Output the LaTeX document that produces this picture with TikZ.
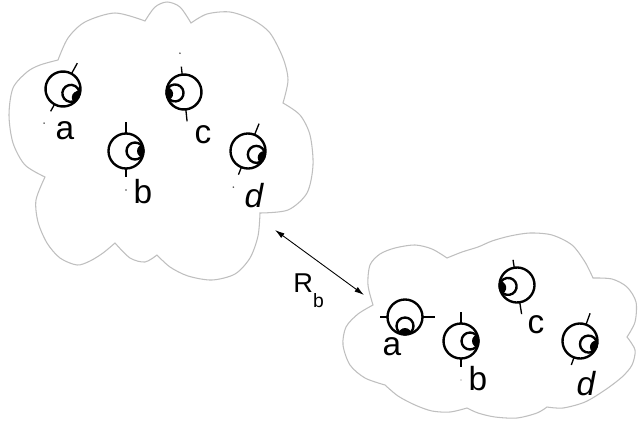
\documentclass[tikz,border=0pt]{standalone}
\usepackage{fontspec}
\setmainfont{Liberation Sans}
\usetikzlibrary{arrows.meta}

\tikzset{
  cloud/.style={draw=black!25, fill=white, line width=0.6pt},
  eyeline/.style={line width=1.35pt},
  tickline/.style={line width=0.75pt},
  who/.style={inner sep=0pt, anchor=base, font=\fontsize{19}{21}\selectfont},
}

% eye at (#2,#3), looking along angle #4; #1 = colour of the small dot
\newcommand{\eye}[4][]{%
  \begin{scope}[shift={(#2,#3)}, x=0.02cm, y=0.02cm, rotate=#4]
    \draw[eyeline] (0,0) circle (17.5);
    \begin{scope}
      \clip (9,0) circle (8.5);
      \fill (17.5,0) circle (6.5);
    \end{scope}
    \draw[eyeline] (9,0) circle (8.5);
    \draw[tickline] (0,17.5) -- (0,29.5);
    \draw[tickline] (0,-17.5) -- (0,-25.5);
    \if\relax\detokenize{#1}\relax\else\fill[#1] (0,-39) circle (0.9);\fi
  \end{scope}}

\begin{document}
\begin{tikzpicture}[x=0.02cm, y=-0.02cm]
    \useasboundingbox (0,0) rectangle (638,426);
    % first group
    \draw[cloud] plot[smooth] coordinates {(145,21) (155,7) (167,2) (180,7) (191,23)}
        -- plot[smooth] coordinates {(191,23) (207,14) (230,12) (253,20) (270,33) (283,58) (288,80) (283,103)}
        -- plot[smooth] coordinates {(283,103) (300,115) (310,135) (313,165) (307,193) (288,210) (260,213)}
        -- plot[smooth] coordinates {(260,213) (258,236) (250,258) (235,274) (212,280) (188,276) (170,267) (157,255)}
        -- plot[smooth] coordinates {(157,255) (145,262) (130,258) (115,243)}
        -- plot[smooth] coordinates {(115,243) (103,253) (90,261) (77,265) (60,258) (47,243) (38,222) (36,200) (45,177)}
        -- plot[smooth] coordinates {(45,177) (25,165) (13,143) (9,115) (13,88) (27,72) (40,65) (58,60)}
        -- plot[smooth] coordinates {(58,60) (68,38) (85,22) (115,13) (145,21)} -- cycle;
    % second group
    \draw[cloud] plot[smooth] coordinates {(373,305) (368,285) (370,265) (380,254) (395,248) (415,245) (432,249) (447,258)}
        -- plot[smooth] coordinates {(447,258) (462,252) (478,247) (492,241) (510,236) (530,233) (552,235) (572,245) (585,262) (593,278)}
        -- plot[smooth] coordinates {(593,278) (612,279) (627,287) (636,302) (635,322) (627,337)}
        -- plot[smooth] coordinates {(627,337) (635,350) (632,365) (622,377) (605,390) (585,402) (563,408) (547,407)}
        -- plot[smooth] coordinates {(547,407) (537,413) (517,418) (495,417) (478,413) (467,408)}
        -- plot[smooth] coordinates {(467,408) (450,412) (432,411) (415,405) (398,396) (385,385)}
        -- plot[smooth] coordinates {(385,385) (365,378) (350,365) (343,345) (346,327) (358,314) (373,305)} -- cycle;

    \eye[black!70]{63}{89}{-29}
    \eye[black!70]{126}{151}{0}
    \eye[black!70]{184}{92}{186}
    \eye[black!70]{248}{151}{-22}
    \eye{405}{317}{270}
    \eye[black!25]{461}{341}{0}
    \eye{517}{285}{189}
    \eye{580}{341}{-20}

    \foreach \n/\x/\y/\t in {ta/65/139/a, tb/143/203/b, tc/203/143/c, td/254/207/{\itshape d},
                             ba/392/355/a, bb/478/390/b, bc/536/333/c, bd/586/395/{\itshape d}}
        \node[who] (\n) at (\x,\y) {\t};

    \coordinate (rtail) at (275,230);
    \coordinate (rhead) at (364,295);
    \draw[{Latex[length=5.5pt,width=3.2pt]}-{Latex[length=5.5pt,width=3.2pt]}, line width=0.5pt] (rtail) -- (rhead);
    \node[inner sep=0pt, anchor=base west, font=\fontsize{15.5}{17}\selectfont] (rb) at (293,292)
        {R\raisebox{-9pt}{\fontsize{11}{12}\selectfont b}};
\end{tikzpicture}
\end{document}
